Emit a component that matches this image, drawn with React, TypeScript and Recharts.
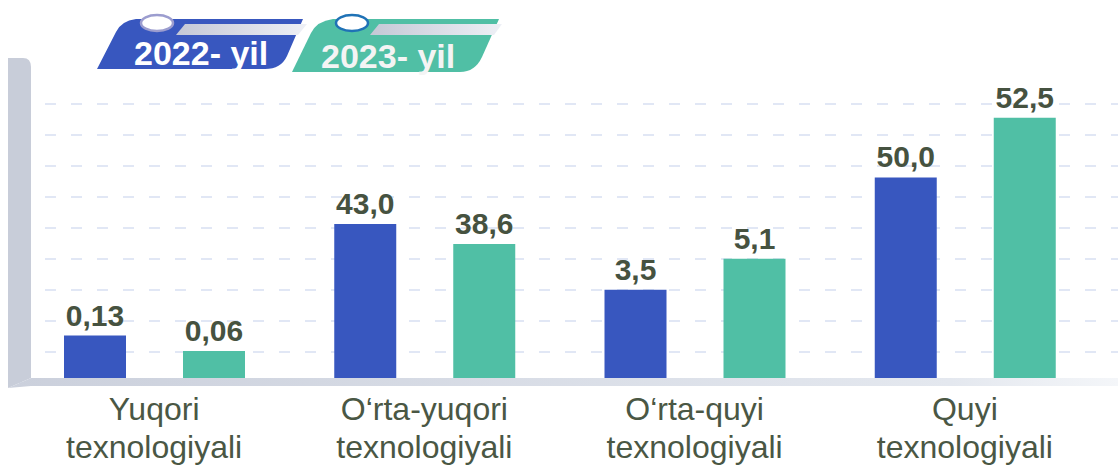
import { BarChart, Bar, XAxis, YAxis, CartesianGrid, LabelList } from "recharts";

// categories (two lines each)
const CATEGORIES = [
  "Yuqori\ntexnologiyali",
  "O‘rta-yuqori\ntexnologiyali",
  "O‘rta-quyi\ntexnologiyali",
  "Quyi\ntexnologiyali",
];

// printed values
const LABELS_2022 = ["0,13", "43,0", "3,5", "50,0"];
const LABELS_2023 = ["0,06", "38,6", "5,1", "52,5"];

// bar heights as drawn in the picture (grid steps; the infographic is not to scale)
const HEIGHT_2022 = [1.53, 5.13, 3.01, 6.63];
const HEIGHT_2023 = [1.03, 4.48, 4.01, 8.56];

const GRID_TICKS = [0, 1, 2, 3, 4, 5, 6, 7, 8, 9];

const BLUE = "#3857bf";
const GREEN = "#50bfa5";
const LABEL_INK = "#465240";
const FONT = "'Liberation Sans', Arial, sans-serif";

const data = CATEGORIES.map((name, i) => ({
  name,
  h2022: HEIGHT_2022[i],
  h2023: HEIGHT_2023[i],
  l2022: LABELS_2022[i],
  l2023: LABELS_2023[i],
}));

const CategoryTick = ({ x, y, payload }: { x?: number; y?: number; payload?: { value: string } }) => {
  const lines = String(payload?.value ?? "").split("\n");
  return (
    <text x={x} y={y} textAnchor="middle" fill="#4a5744" fontSize={32} fontFamily={FONT}>
      {lines.map((l, i) => (
        <tspan key={i} x={x} dy={i === 0 ? 37 : 38}>
          {l}
        </tspan>
      ))}
    </text>
  );
};

// frame strips + year badges drawn over the chart
const Decorations = () => (
  <svg
    width={1118}
    height={467}
    style={{ position: "absolute", left: 0, top: 0, pointerEvents: "none" }}
  >
    <defs>
      <linearGradient id="floor" x1="0" x2="1" y1="0" y2="0">
        <stop offset="0" stopColor="#cbd0dc" />
        <stop offset="0.85" stopColor="#e4e8ef" />
        <stop offset="1" stopColor="#f4f6f9" />
      </linearGradient>
      <linearGradient id="shine" x1="0" x2="1" y1="0" y2="0">
        <stop offset="0" stopColor="#c4c8d6" />
        <stop offset="1" stopColor="#eef0f6" />
      </linearGradient>
    </defs>
    <path d="M8,58 L23,58 Q31,58 31,67 L31,378 L8,388 Z" fill="#c8cdd9" />
    <path d="M31,378 L1118,378 L1118,386 L31,386 L8,388 Z" fill="url(#floor)" />

    {/* 2022 badge */}
    <path d="M97,69 L116,32 Q121,21 136,19 L303,19 L287,56 Q281,69 265,69 Z" fill={BLUE} />
    <path d="M176,35 L185,24 L307,24 L298,35 Z" fill="url(#shine)" />
    <ellipse cx={157} cy={23} rx={16} ry={8} fill="#ffffff" stroke="#9c9dcf" strokeWidth={2.5} />
    <text x={134} y={65} fill="#ffffff" fontSize={34} fontWeight="bold" fontFamily={FONT}>
      2022- yil
    </text>

    {/* 2023 badge */}
    <path d="M292,72 L311,33 Q317,21 333,19 L499,19 L482,57 Q475,72 460,72 Z" fill={GREEN} />
    <path d="M370,35 L379,24 L502,24 L494,35 Z" fill="url(#shine)" />
    <ellipse cx={352} cy={23} rx={16} ry={8} fill="#ffffff" stroke="#1f72b6" strokeWidth={2.5} />
    <text x={321} y={68} fill="#f4f4f4" fontSize={34} fontWeight="bold" fontFamily={FONT}>
      2023- yil
    </text>
  </svg>
);

export default function App() {
  return (
    <div style={{ position: "relative", width: 1118, height: 467, background: "#ffffff" }}>
      <style>{`body{margin:0}`}</style>
      <BarChart
        width={1118}
        height={467}
        data={data}
        margin={{ top: 104, right: 0, left: 19, bottom: 0 }}
        barSize={62}
        barGap={57}
      >
        <CartesianGrid
          vertical={false}
          stroke="#d8dff2"
          strokeWidth={1.3}
          strokeDasharray="11 15"
        />
        <XAxis
          dataKey="name"
          height={84}
          axisLine={false}
          tickLine={false}
          tickSize={0}
          tickMargin={0}
          padding={{ left: 0, right: 18 }}
          interval={0}
          tick={<CategoryTick />}
        />
        <YAxis hide type="number" domain={[0, 9]} ticks={GRID_TICKS} />
        <Bar dataKey="h2022" fill={BLUE} isAnimationActive={false}>
          <LabelList
            dataKey="l2022"
            position="top"
            offset={10}
            fill={LABEL_INK}
            fontSize={30}
            fontWeight="bold"
            fontFamily={FONT}
          />
        </Bar>
        <Bar dataKey="h2023" fill={GREEN} isAnimationActive={false}>
          <LabelList
            dataKey="l2023"
            position="top"
            offset={10}
            fill={LABEL_INK}
            fontSize={30}
            fontWeight="bold"
            fontFamily={FONT}
          />
        </Bar>
      </BarChart>
      <Decorations />
    </div>
  );
}
